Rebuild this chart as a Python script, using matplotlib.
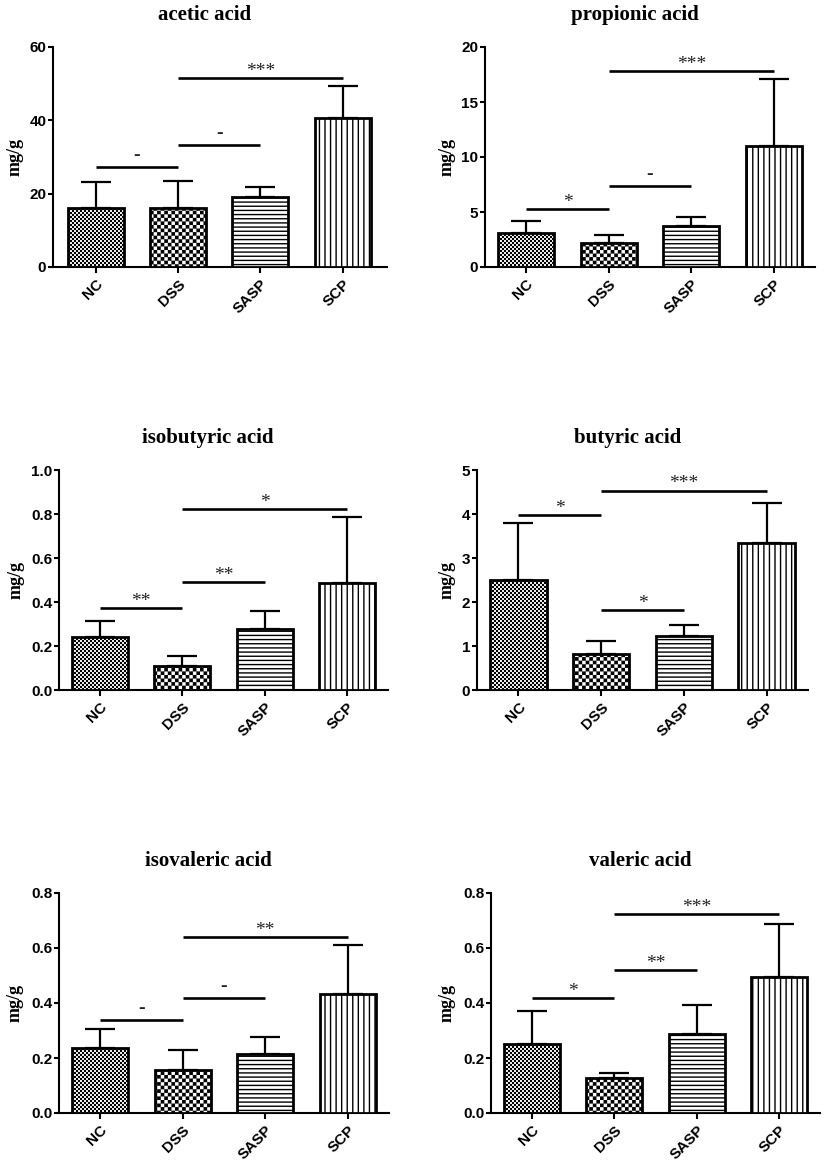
import warnings
warnings.filterwarnings('ignore')
import numpy as np
import matplotlib
matplotlib.use('Agg')
import matplotlib.pyplot as plt
import matplotlib.hatch as mhatch
from matplotlib.path import Path
from matplotlib.ticker import FormatStrFormatter, MultipleLocator

# ---------------- data ----------------
groups = ['NC', 'DSS', 'SASP', 'SCP']
titles = ['acetic acid', 'propionic acid', 'isobutyric acid',
          'butyric acid', 'isovaleric acid', 'valeric acid']

acetic_mean = [16.2, 16.2, 19.1, 40.7]
acetic_sd = [7.0, 7.2, 2.7, 8.7]
propionic_mean = [3.09, 2.18, 3.76, 11.03]
propionic_sd = [1.06, 0.76, 0.79, 6.06]
isobutyric_mean = [0.242, 0.109, 0.277, 0.488]
isobutyric_sd = [0.070, 0.047, 0.084, 0.298]
butyric_mean = [2.50, 0.82, 1.23, 3.35]
butyric_sd = [1.30, 0.30, 0.25, 0.89]
isovaleric_mean = [0.237, 0.157, 0.216, 0.434]
isovaleric_sd = [0.068, 0.073, 0.061, 0.176]
valeric_mean = [0.251, 0.126, 0.289, 0.495]
valeric_sd = [0.121, 0.019, 0.104, 0.194]

# significance brackets: (group a, group b, height, label)
acetic_sig = [(0, 1, 27.3, '-'), (1, 2, 33.2, '-'), (1, 3, 51.5, '***')]
propionic_sig = [(0, 1, 5.24, '*'), (1, 2, 7.39, '-'), (1, 3, 17.8, '***')]
isobutyric_sig = [(0, 1, 0.373, '**'), (1, 2, 0.492, '**'), (1, 3, 0.821, '*')]
butyric_sig = [(0, 1, 3.98, '*'), (1, 2, 1.82, '*'), (1, 3, 4.53, '***')]
isovaleric_sig = [(0, 1, 0.338, '-'), (1, 2, 0.417, '-'), (1, 3, 0.641, '**')]
valeric_sig = [(0, 1, 0.417, '*'), (1, 2, 0.520, '**'), (1, 3, 0.723, '***')]

y_max = [60, 20, 1.0, 5, 0.8, 0.8]
y_step = [20, 5, 0.2, 1, 0.2, 0.2]
y_fmt = ['%d', '%d', '%.1f', '%d', '%.1f', '%.1f']

means = [acetic_mean, propionic_mean, isobutyric_mean, butyric_mean,
         isovaleric_mean, valeric_mean]
sds = [acetic_sd, propionic_sd, isobutyric_sd, butyric_sd,
       isovaleric_sd, valeric_sd]
sigs = [acetic_sig, propionic_sig, isobutyric_sig, butyric_sig,
        isovaleric_sig, valeric_sig]

# ---------------- checkerboard hatch ----------------
class CheckerHatch(mhatch.HatchPatternBase):
    def __init__(self, hatch, density):
        self.n = 25 * hatch.count('c') + 14 * hatch.count('C')
        self.num_vertices = 10 * self.n * self.n

    def set_vertices_and_codes(self, vertices, codes):
        n = self.n
        cell = 1.0 / (2 * n)
        s = 0.0065
        unit = np.array([[s, s], [cell - s, s], [cell - s, cell - s],
                         [s, cell - s], [s, s]])
        parts = []
        for i in range(2 * n):
            for j in range(2 * n):
                if (i + j) % 2 == 0:
                    parts.append(unit + [i * cell, j * cell])
        vertices[:] = np.concatenate(parts)
        c = np.array([Path.MOVETO, Path.LINETO, Path.LINETO,
                      Path.LINETO, Path.CLOSEPOLY])
        codes[:] = np.tile(c, len(parts))


mhatch._hatch_types.append(CheckerHatch)
hatches = ['c', 'C', '----', '|||']

# ---------------- style ----------------
plt.rcParams['font.family'] = ['Liberation Sans', 'DejaVu Sans']
plt.rcParams['font.weight'] = 'bold'
plt.rcParams['hatch.color'] = 'black'
plt.rcParams['hatch.linewidth'] = 1.0

W, H = 829, 1169
fig = plt.figure(figsize=(W / 100, H / 100), dpi=100)

# pixel layout: left, right, top, bottom, ylabel x, xlim
layout = [
    (53, 387, 47, 267, 15, (-0.52, 3.54)),
    (485, 815, 47, 267, 447, (-0.5, 3.5)),
    (59, 388, 470, 690, 16, (-0.5, 3.5)),
    (477, 808, 470, 690, 447, (-0.5, 3.5)),
    (59, 389, 893, 1113, 15, (-0.5, 3.5)),
    (491, 820, 893, 1113, 447, (-0.5, 3.5)),
]

x = np.arange(len(groups))
for k in range(6):
    l, r, t, b, ylx, xl = layout[k]
    ax = fig.add_axes([l / W, 1 - b / H, (r - l) / W, (b - t) / H])
    ax.set_xlim(*xl)
    ax.set_ylim(0, y_max[k])

    ax.errorbar(x, means[k], yerr=[np.zeros(len(groups)), sds[k]], fmt='none',
                ecolor='black', elinewidth=1.6, capsize=10.5, capthick=1.6,
                zorder=2)
    bars = ax.bar(x, means[k], width=0.68, color='white', edgecolor='black',
                  linewidth=2.0, zorder=3)
    for bar, h in zip(bars, hatches):
        bar.set_hatch(h)

    for a, bb, yv, lab in sigs[k]:
        ax.hlines(yv, x[a], x[bb], color='black', lw=1.9, zorder=4)
        dash = (lab == '-')
        off = 5.0 if dash else 1.6
        ax.annotate(lab, xy=((x[a] + x[bb]) / 2, yv), xycoords='data',
                    xytext=(0, off), textcoords='offset points',
                    ha='center', va='baseline', family='Liberation Serif',
                    fontweight='bold' if dash else 'normal', fontsize=14,
                    color='#222222')

    for s in ['top', 'right']:
        ax.spines[s].set_visible(False)
    for s in ['left', 'bottom']:
        ax.spines[s].set_linewidth(1.5)

    ax.yaxis.set_major_locator(MultipleLocator(y_step[k]))
    ax.yaxis.set_major_formatter(FormatStrFormatter(y_fmt[k]))
    ax.tick_params(axis='y', direction='out', length=3.8, width=1.5, pad=1,
                   labelsize=11)
    ax.tick_params(axis='x', direction='out', length=4.3, width=1.5, pad=3,
                   labelsize=11)
    ax.set_xticks(x)
    ax.set_xticklabels(groups, rotation=45, ha='right', va='top',
                       rotation_mode='anchor', fontweight='bold')
    for lbl in ax.get_yticklabels():
        lbl.set_fontweight('bold')

    ax.annotate(titles[k], xy=(0.5, 1.0), xycoords='axes fraction',
                xytext=(-11, 19.5), textcoords='offset points',
                ha='center', va='baseline', family='Liberation Serif',
                fontweight='bold', fontsize=15, annotation_clip=False)
    fig.text(ylx / W, 1 - ((t + b) / 2) / H, 'mg/g', rotation=90,
             ha='center', va='center', family='Liberation Serif',
             fontweight='bold', fontsize=13)

fig.savefig('out.png', dpi=100, facecolor='white')
